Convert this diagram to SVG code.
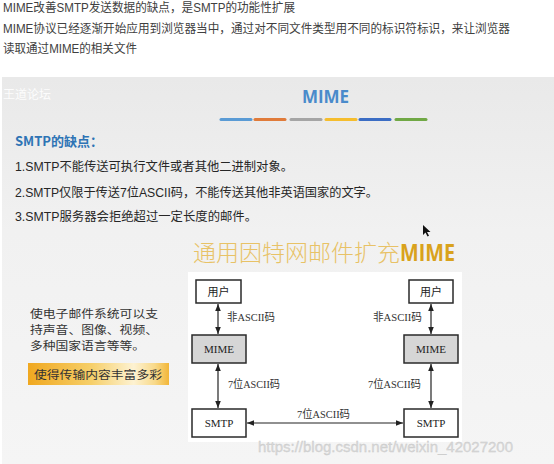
<svg xmlns="http://www.w3.org/2000/svg" width="554" height="464" viewBox="0 0 554 464">
<defs>
<linearGradient id="bg" x1="0" y1="0" x2="0" y2="1">
<stop offset="0" stop-color="#e9e9e9"/>
<stop offset="0.4" stop-color="#f1f1f1"/>
<stop offset="1" stop-color="#f5f5f5"/>
</linearGradient>
<linearGradient id="hl" x1="0" y1="0" x2="1" y2="0">
<stop offset="0" stop-color="#f0a820"/>
<stop offset="0.45" stop-color="#f6cf6a"/>
<stop offset="0.75" stop-color="#fdf2d2"/>
<stop offset="0.9" stop-color="#f8d989"/>
<stop offset="1" stop-color="#f2b638"/>
</linearGradient>
<marker id="ah" viewBox="0 0 10 10" refX="10" refY="5" markerWidth="7" markerHeight="7" markerUnits="userSpaceOnUse" orient="auto-start-reverse">
<path d="M0,1 L10,5 L0,9 z" fill="#222"/>
</marker>
<style>
.top{font-family:"Liberation Sans","Noto Sans CJK SC",sans-serif;font-size:12px;fill:#404040}
.item{font-family:"Liberation Sans","Noto Sans CJK SC",sans-serif;font-size:12.5px;fill:#262626}
.box{fill:#ffffff;stroke:#2a2a2a;stroke-width:1.5}
.gbox{fill:#d6d6d6;stroke:#2a2a2a;stroke-width:1.5}
.bl{font-family:"Liberation Serif","Noto Sans CJK SC",serif;font-size:11px;fill:#222;text-anchor:middle}
.lbl{font-family:"Liberation Serif","Noto Sans CJK SC",serif;font-size:11px;fill:#333}
.conn line{stroke:#222;stroke-width:1.2;marker-start:url(#ah);marker-end:url(#ah)}
.left{font-family:"Noto Sans CJK SC",sans-serif;font-size:11px;fill:#333}
</style>
</defs>
<rect width="554" height="464" fill="#ffffff"/>
<g id="notes">
<text class="top" x="3" y="12" textLength="292" lengthAdjust="spacingAndGlyphs">MIME改善SMTP发送数据的缺点，是SMTP的功能性扩展</text>
<text class="top" x="3" y="33" textLength="507" lengthAdjust="spacingAndGlyphs">MIME协议已经逐渐开始应用到浏览器当中，通过对不同文件类型用不同的标识符标识，来让浏览器</text>
<text class="top" x="3" y="53" textLength="134" lengthAdjust="spacingAndGlyphs">读取通过MIME的相关文件</text>
</g>
<g id="slide">
<rect x="2" y="77" width="552" height="387" fill="url(#bg)"/>
<text x="3" y="99" font-family="Noto Sans CJK SC,sans-serif" font-size="12" fill="#ffffff" opacity="0.9">王道论坛</text>
<text x="325.5" y="103" text-anchor="middle" font-family="Open Sans,Liberation Sans,sans-serif" font-weight="bold" font-size="17" fill="#4a8bcb">MIME</text>
<g stroke-width="3" stroke-linecap="round">
<line x1="221" y1="119.5" x2="251" y2="119.5" stroke="#5a9bd5"/>
<line x1="255" y1="119.5" x2="285" y2="119.5" stroke="#e07b3a"/>
<line x1="291" y1="119.5" x2="321" y2="119.5" stroke="#a5a5a5"/>
<line x1="326" y1="119.5" x2="356" y2="119.5" stroke="#f5bd2e"/>
<line x1="360" y1="119.5" x2="390" y2="119.5" stroke="#3b6dc4"/>
<line x1="396" y1="119.5" x2="426" y2="119.5" stroke="#70a845"/>
</g>
<text x="15" y="146" font-family="Noto Sans CJK SC,sans-serif" font-weight="bold" font-size="13" fill="#2e74b5">SMTP的缺点：</text>
<text class="item" x="15" y="171" textLength="278" lengthAdjust="spacingAndGlyphs">1.SMTP不能传送可执行文件或者其他二进制对象。</text>
<text class="item" x="15" y="197" textLength="363" lengthAdjust="spacingAndGlyphs">2.SMTP仅限于传送7位ASCII码，不能传送其他非英语国家的文字。</text>
<text class="item" x="15" y="221" textLength="242" lengthAdjust="spacingAndGlyphs">3.SMTP服务器会拒绝超过一定长度的邮件。</text>
<path d="M423,225 L423,235 L425.5,232.5 L427.5,236.5 L429,235.8 L427,232 L430.5,232 z" fill="#111"/>
<text x="193" y="261" font-family="Noto Sans CJK SC,sans-serif" font-size="23" font-weight="300" fill="#e8c266" textLength="207" lengthAdjust="spacingAndGlyphs">通用因特网邮件扩充</text>
<text x="400" y="261" font-family="Open Sans,Liberation Sans,sans-serif" font-size="23" font-weight="bold" fill="#d9a21c" textLength="55" lengthAdjust="spacingAndGlyphs">MIME</text>
<text class="left" x="30" y="318" textLength="128" lengthAdjust="spacingAndGlyphs">使电子邮件系统可以支</text>
<text class="left" x="30" y="334" textLength="128" lengthAdjust="spacingAndGlyphs">持声音、图像、视频、</text>
<text class="left" x="30" y="350" textLength="115" lengthAdjust="spacingAndGlyphs">多种国家语言等等。</text>
<rect x="28" y="363" width="141" height="22" fill="url(#hl)"/>
<text class="left" x="34" y="379" font-size="13" fill="#3a2a10" textLength="128" lengthAdjust="spacingAndGlyphs">使得传输内容丰富多彩</text>
<rect x="188" y="272" width="274" height="170" fill="#ffffff"/>
</g>
<g id="connectors" class="conn">
<line x1="218" y1="304" x2="218" y2="334"/>
<line x1="218" y1="364" x2="218" y2="408"/>
<line x1="431" y1="304" x2="431" y2="334"/>
<line x1="431" y1="364" x2="431" y2="408"/>
<line x1="247" y1="423" x2="403" y2="423"/>
</g>
<g id="labels">
<text class="lbl" x="227" y="321" textLength="48" lengthAdjust="spacingAndGlyphs">非ASCII码</text>
<text class="lbl" x="373" y="321" textLength="49" lengthAdjust="spacingAndGlyphs">非ASCII码</text>
<text class="lbl" x="228" y="388" textLength="52" lengthAdjust="spacingAndGlyphs">7位ASCII码</text>
<text class="lbl" x="368" y="388" textLength="53" lengthAdjust="spacingAndGlyphs">7位ASCII码</text>
<text class="lbl" x="297" y="418" textLength="53" lengthAdjust="spacingAndGlyphs">7位ASCII码</text>
</g>
<g id="user-left"><rect class="box" x="196" y="280" width="45" height="23"/><text class="bl" x="218.5" y="295.5">用户</text></g>
<g id="mime-left"><rect class="gbox" x="192" y="335" width="54" height="28"/><text class="bl" x="219" y="353">MIME</text></g>
<g id="smtp-left"><rect class="box" x="192" y="409" width="54" height="28"/><text class="bl" x="219" y="427">SMTP</text></g>
<g id="user-right"><rect class="box" x="409" y="280" width="44" height="23"/><text class="bl" x="431" y="295.5">用户</text></g>
<g id="mime-right"><rect class="gbox" x="404" y="335" width="54" height="28"/><text class="bl" x="431" y="353">MIME</text></g>
<g id="smtp-right"><rect class="box" x="404" y="409" width="54" height="28"/><text class="bl" x="431" y="427">SMTP</text></g>
<text x="258" y="452" font-family="Liberation Sans,sans-serif" font-size="15" fill="#d8d8d8" stroke="#c8c8c8" stroke-width="0.3" textLength="255" lengthAdjust="spacingAndGlyphs">https://blog.csdn.net/weixin_42027200</text>
</svg>
